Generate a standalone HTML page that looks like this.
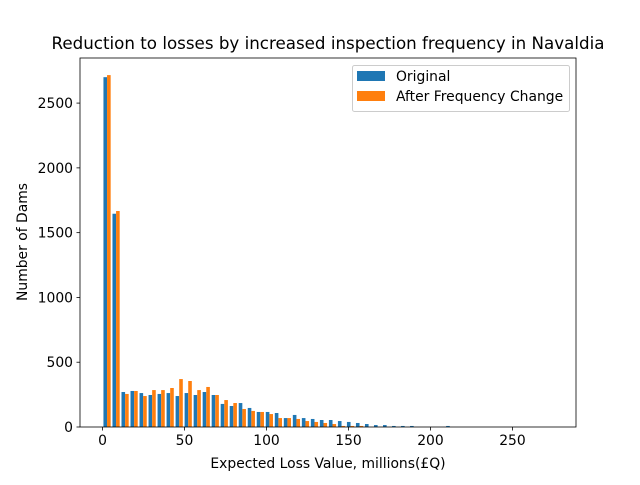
<!DOCTYPE html>
<html><head><meta charset="utf-8"><style>
body{margin:0;background:#fff}
svg text{font-family:"DejaVu Sans","Liberation Sans",sans-serif;fill:#000}
</style></head><body>
<svg id="chart" width="640" height="480" xmlns="http://www.w3.org/2000/svg">
<rect width="640" height="480" fill="#fff"/>
<text x="328" y="49" font-size="16.7" text-anchor="middle">Reduction to losses by increased inspection frequency in Navaldia</text>
<g id="bars"></g>
<g id="axes"></g>
<text x="328" y="468" font-size="13.9" text-anchor="middle">Expected Loss Value, millions(£Q)</text>
<text x="27" y="242" font-size="13.9" text-anchor="middle" transform="rotate(-90 27 242)">Number of Dams</text>
<g>
<rect x="352.5" y="65.5" width="217" height="46" rx="2" fill="#fff" fill-opacity="0.8" stroke="#ccc"/>
<rect x="357" y="71" width="28" height="10" fill="#1f77b4"/>
<text x="396" y="81" font-size="13.9">Original</text>
<rect x="357" y="91" width="28" height="10" fill="#ff7f0e"/>
<text x="396" y="101" font-size="13.9">After Frequency Change</text>
</g>
</svg>
<script>
const binStart = 0;
const binWidth = 5.5;
const original = [2700,1646,270,278,262,247,255,262,239,262,247,270,247,178,162,185,147,116,116,108,69,93,69,62,54,54,46,39,31,23,15,15,8,8,8,0,0,0,8,0,0,0,0,0,0,0,0,0,0,0];
const afterChange = [2716,1667,255,278,239,285,285,301,370,355,285,309,247,208,185,139,124,116,100,69,69,62,46,39,31,23,8,8,8,0,0,0,0,0,0,0,0,0,0,0,0,0,0,0,0,0,0,0,0,0];
const xTicks = [0,50,100,150,200,250];
const yTicks = [0,500,1000,1500,2000,2500];
const X0=80,X1=576,Y0=427,Y1=58;
const xMin=-13.75,xMax=288.75,yMin=0,yMax=2848;
const sx=v=>X0+(v-xMin)/(xMax-xMin)*(X1-X0);
const sy=v=>Y0-(v-yMin)/(yMax-yMin)*(Y0-Y1);
const NS="http://www.w3.org/2000/svg";
const bars=document.getElementById('bars');
function bar(series,i,v,off,color,name){
  const r=document.createElementNS(NS,'rect');
  const l=binStart+i*binWidth+binWidth*(0.1+off);
  const x0=sx(l),x1=sx(l+binWidth*0.4);
  r.setAttribute('x',x0);r.setAttribute('width',x1-x0);
  r.setAttribute('y',sy(v));r.setAttribute('height',sy(0)-sy(v));
  r.setAttribute('fill',color);
  
  
  bars.appendChild(r);
}
original.forEach((v,i)=>{if(v>0)bar('o',i,v,0,'#1f77b4','original');});
afterChange.forEach((v,i)=>{if(v>0)bar('a',i,v,0.4,'#ff7f0e','after');});
const ax=document.getElementById('axes');
let h=`<rect x="${X0}" y="${Y1}" width="${X1-X0}" height="${Y0-Y1}" fill="none" stroke="#000" stroke-width="0.8"/>`;
xTicks.forEach(t=>{const x=sx(t);h+=`<line x1="${x}" x2="${x}" y1="${Y0}" y2="${Y0+3.5}" stroke="#000" stroke-width="0.8"/><text x="${x}" y="${Y0+18}" font-size="13.9" text-anchor="middle">${t}</text>`;});
yTicks.forEach(t=>{const y=sy(t);h+=`<line x1="${X0-3.5}" x2="${X0}" y1="${y}" y2="${y}" stroke="#000" stroke-width="0.8"/><text x="${X0-7}" y="${y+5}" font-size="13.9" text-anchor="end">${t}</text>`;});
ax.innerHTML=h;


</script>
</body></html>
